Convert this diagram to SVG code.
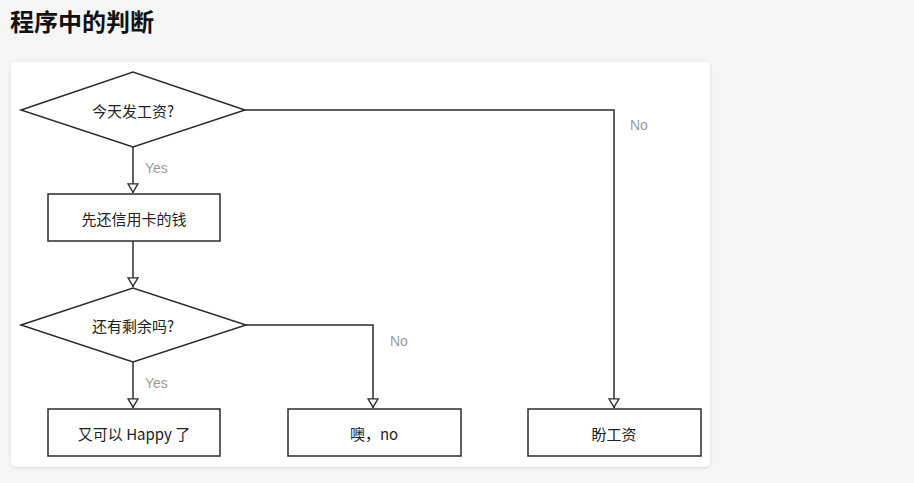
<svg xmlns="http://www.w3.org/2000/svg" width="914" height="483" viewBox="0 0 914 483">
<style>
.shape{fill:#fff;stroke:#2b2b2b;stroke-width:1.5}
.t{font-family:"Noto Sans CJK SC","Liberation Sans",sans-serif;font-size:15px;fill:#222;text-anchor:middle;dominant-baseline:central}
.lbl{font-family:"Liberation Sans","Noto Sans CJK SC",sans-serif;font-size:14px;fill:#9a9a9a}
.c{fill:none;stroke:#2b2b2b;stroke-width:1.5}
</style>
<defs>
<marker id="arr" viewBox="0 0 10 12" refX="10" refY="6" markerWidth="10" markerHeight="12" markerUnits="userSpaceOnUse" orient="auto">
<path d="M0.8,1 L9.2,6 L0.8,11 Z" fill="#fff" stroke="#2b2b2b" stroke-width="1.3"/>
</marker>
<filter id="sh" x="-5%" y="-5%" width="110%" height="110%">
<feDropShadow dx="0" dy="1" stdDeviation="1.5" flood-color="#000" flood-opacity="0.12"/>
</filter>
</defs>
<rect x="0" y="0" width="914" height="483" fill="#f5f5f5"/>
<text x="10" y="31" font-family="Noto Sans CJK SC,sans-serif" font-size="24" font-weight="bold" fill="#111">程序中的判断</text>
<rect x="11" y="62" width="699" height="405" rx="5" fill="#fff" filter="url(#sh)"/>
<g id="connectors">
<path class="c" d="M133,147 V193" marker-end="url(#arr)"/>
<path class="c" d="M133,241 V287" marker-end="url(#arr)"/>
<path class="c" d="M133,362 V408" marker-end="url(#arr)"/>
<path class="c" d="M246,325 H373 V408" marker-end="url(#arr)"/>
<path class="c" d="M245,110 H614 V408" marker-end="url(#arr)"/>
<text class="lbl" x="145" y="173">Yes</text>
<text class="lbl" x="145" y="388">Yes</text>
<text class="lbl" x="390" y="346">No</text>
<text class="lbl" x="630" y="130">No</text>
</g>
<g id="d1">
<polygon class="shape" points="21,110 133,72 245,110 133,147"/>
<text class="t" x="133" y="110">今天发工资?</text>
</g>
<g id="b1">
<rect class="shape" x="48" y="194" width="172" height="47"/>
<text class="t" x="134" y="218">先还信用卡的钱</text>
</g>
<g id="d2">
<polygon class="shape" points="21,325 133,288 246,325 133,362"/>
<text class="t" x="133" y="325">还有剩余吗?</text>
</g>
<g id="b2">
<rect class="shape" x="48" y="409" width="172" height="47"/>
<text class="t" x="134" y="433">又可以 Happy 了</text>
</g>
<g id="b3">
<rect class="shape" x="288" y="409" width="173" height="47"/>
<text class="t" x="374" y="433">噢，no</text>
</g>
<g id="b4">
<rect class="shape" x="528" y="409" width="173" height="47"/>
<text class="t" x="614" y="433">盼工资</text>
</g>
</svg>
